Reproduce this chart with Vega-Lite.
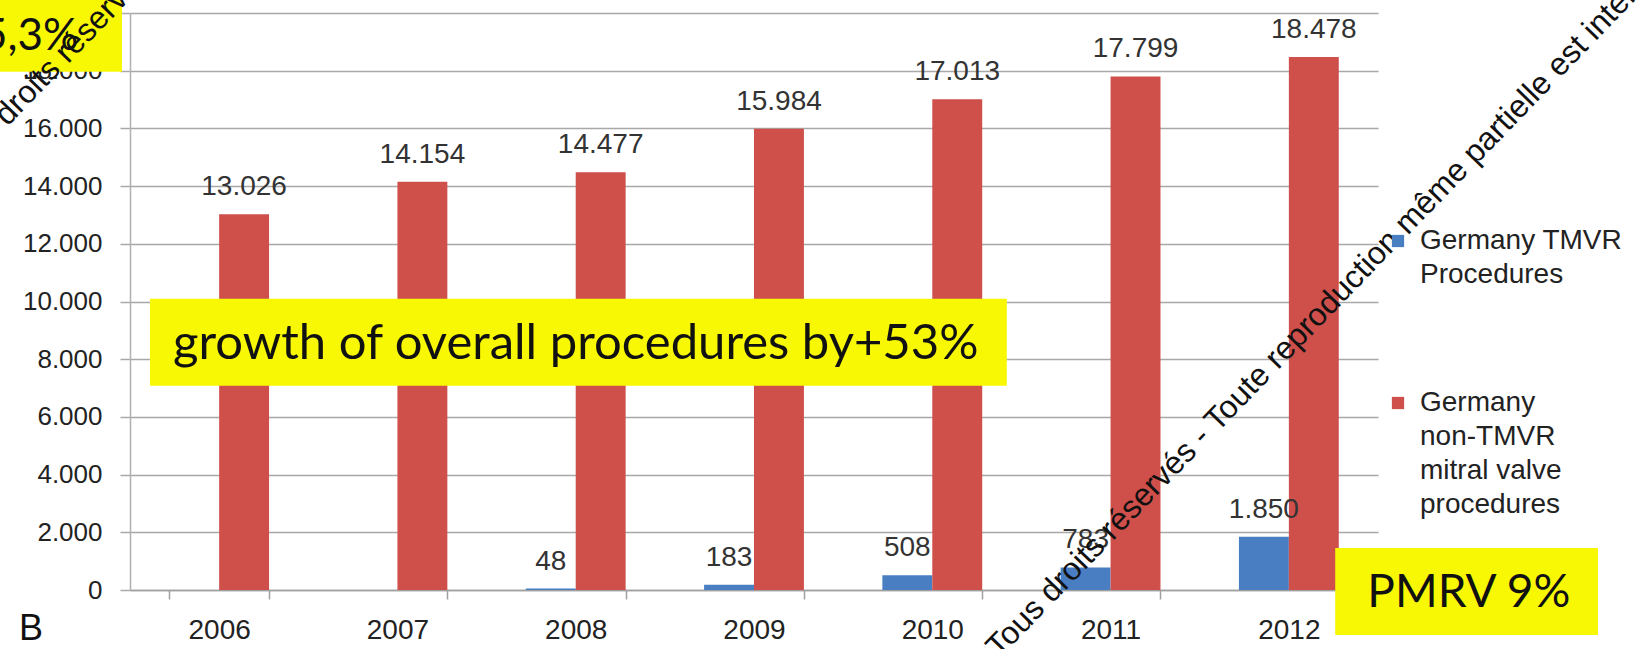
{
  "$schema": "https://vega.github.io/schema/vega-lite/v6.json",
  "width": 1248,
  "height": 577,
  "autosize": {"type": "none"},
  "padding": {"left": 130, "top": 13, "right": 267, "bottom": 59},
  "background": "white",
  "config": {
    "locale": {"number": {"decimal": ",", "thousands": ".", "grouping": [3], "currency": ["", " €"]}},
    "view": {"stroke": null},
    "font": "Liberation Sans",
    "legend": {"padding": 0},
    "style": {"guide-label": {"lineHeight": 34}}
  },
  "layer": [
    {
      "data": {"values": [
        {"year": "2006", "series": "Germany non-TMVR mitral valve procedures", "value": 13026},
        {"year": "2007", "series": "Germany non-TMVR mitral valve procedures", "value": 14154},
        {"year": "2008", "series": "Germany TMVR Procedures", "value": 48},
        {"year": "2008", "series": "Germany non-TMVR mitral valve procedures", "value": 14477},
        {"year": "2009", "series": "Germany TMVR Procedures", "value": 183},
        {"year": "2009", "series": "Germany non-TMVR mitral valve procedures", "value": 15984},
        {"year": "2010", "series": "Germany TMVR Procedures", "value": 508},
        {"year": "2010", "series": "Germany non-TMVR mitral valve procedures", "value": 17013},
        {"year": "2011", "series": "Germany TMVR Procedures", "value": 783},
        {"year": "2011", "series": "Germany non-TMVR mitral valve procedures", "value": 17799},
        {"year": "2012", "series": "Germany TMVR Procedures", "value": 1850},
        {"year": "2012", "series": "Germany non-TMVR mitral valve procedures", "value": 18478}
      ]},
      "encoding": {
        "x": {"field": "year", "type": "nominal",
          "scale": {"paddingInner": 0.44, "paddingOuter": 0.22},
          "axis": {"title": null, "labelAngle": 0, "labelFontSize": 28, "labelColor": "#222", "domainColor": "#a0a0a0", "domainWidth": 1.5, "tickColor": "#a0a0a0", "tickWidth": 1.5, "tickSize": 9, "tickBand": "extent", "labelPadding": 17, "grid": false}},
        "xOffset": {"field": "series", "type": "nominal",
          "scale": {"domain": ["Germany TMVR Procedures", "Germany non-TMVR mitral valve procedures"], "paddingInner": 0, "paddingOuter": 0}},
        "y": {"field": "value", "type": "quantitative",
          "scale": {"domain": [0, 20000], "nice": false},
          "axis": {"title": null, "values": [0, 2000, 4000, 6000, 8000, 10000, 12000, 14000, 16000, 18000, 20000], "format": ",d", "labelFontSize": 26, "labelColor": "#222", "gridColor": "#a8a8a8", "gridWidth": 1.5, "domainColor": "#b0b0b0", "domainWidth": 1.5, "tickColor": "#a8a8a8", "tickWidth": 1.5, "tickSize": 10, "labelPadding": 18}}
      },
      "layer": [
        {
          "mark": {"type": "bar"},
          "encoding": {
            "color": {"field": "series", "type": "nominal",
              "scale": {"domain": ["Germany TMVR Procedures", "Germany non-TMVR mitral valve procedures"], "range": ["#4a7ec2", "#cf4f4b"]},
              "legend": {"title": null, "orient": "none", "legendX": 1254, "legendY": 214, "symbolType": "square", "symbolSize": 150, "symbolStrokeWidth": 0, "labelFontSize": 28, "labelColor": "#222", "labelOffset": 8, "rowPadding": 100, "labelLimit": 400,
                "labelExpr": "datum.label == 'Germany TMVR Procedures' ? ['Germany TMVR', 'Procedures'] : ['Germany', 'non-TMVR', 'mitral valve', 'procedures']"}}
          }
        },
        {
          "mark": {"type": "text", "baseline": "alphabetic", "dy": -19, "fontSize": 28, "color": "#333"},
          "encoding": {"text": {"field": "value", "type": "quantitative", "format": ",d"}}
        }
      ]
    },
    {
      "encoding": {
        "x": {"field": "x", "type": "quantitative", "scale": {"domain": [0, 7], "nice": false, "zero": false}, "axis": null},
        "y": {"field": "y", "type": "quantitative", "scale": {"domain": [0, 20000], "nice": false, "zero": false}, "axis": null}
      },
      "layer": [
        {
          "data": {"values": [
            {"note": "growth", "x": 0.112, "x2": 4.918, "y": 7076, "y2": 10094},
            {"note": "share", "x": -0.75, "x2": -0.045, "y": 17967, "y2": 20500},
            {"note": "pmrv", "x": 6.76, "x2": 8.234, "y": -1560, "y2": 1457}
          ]},
          "mark": {"type": "rect", "color": "#f8f804"},
          "encoding": {"x2": {"field": "x2"}, "y2": {"field": "y2"}}
        },
        {
          "data": {"values": [{"label": "growth of overall procedures by+53%", "x": 0.241, "y": 8527}]},
          "mark": {"type": "text", "font": "Lato", "fontSize": 49, "align": "left", "baseline": "middle", "color": "#111"},
          "encoding": {"text": {"field": "label"}}
        },
        {
          "data": {"values": [{"label": "5,3%", "x": -0.29, "y": 19168}]},
          "mark": {"type": "text", "font": "Lato", "fontSize": 44, "align": "right", "baseline": "middle", "color": "#111"},
          "encoding": {"text": {"field": "label"}}
        },
        {
          "data": {"values": [{"label": "PMRV 9%", "x": 6.94, "y": -104}]},
          "mark": {"type": "text", "font": "Lato", "fontSize": 46, "align": "left", "baseline": "middle", "color": "#111"},
          "encoding": {"text": {"field": "label"}}
        },
        {
          "data": {"values": [{"label": "B", "x": -0.555, "y": -1352}]},
          "mark": {"type": "text", "fontSize": 36, "align": "center", "baseline": "middle", "color": "#111"},
          "encoding": {"text": {"field": "label"}}
        },
        {
          "data": {"values": [
            {"label": "Tous droits réservés - Toute reproduction même partielle est interdite", "x": 4.835, "y": -2149},
            {"label": "Tous droits réservés - Toute reproduction même partielle est interdite", "x": -1.026, "y": 14385}
          ]},
          "mark": {"type": "text", "fontSize": 32, "angle": -46, "align": "left", "baseline": "middle", "color": "#111"},
          "encoding": {"text": {"field": "label"}}
        }
      ]
    }
  ],
  "resolve": {"scale": {"x": "independent", "y": "independent"}}
}
